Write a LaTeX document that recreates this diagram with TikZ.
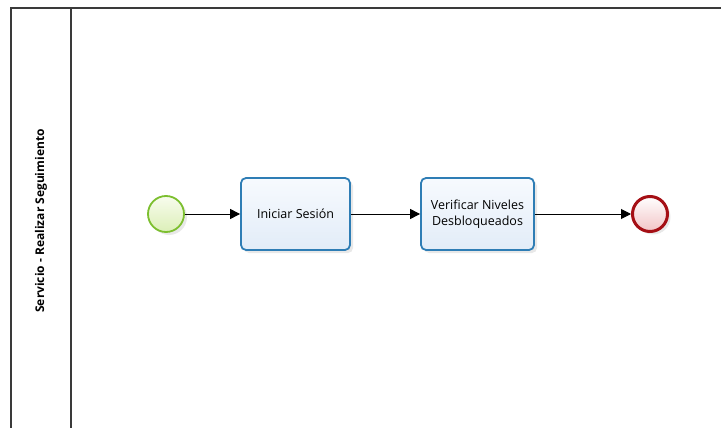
\documentclass[tikz,border=0pt]{standalone}
\usepackage{fontspec}
\setmainfont{Open Sans}
\usetikzlibrary{arrows.meta,shadows}

\definecolor{poolgray}{HTML}{3A3A3A}
\definecolor{taskblue}{HTML}{2E7DB5}
\definecolor{tasktop}{HTML}{F7FAFE}
\definecolor{taskbot}{HTML}{E2ECF8}
\definecolor{startgreen}{HTML}{7CBF2F}
\definecolor{starttop}{HTML}{F8FCEE}
\definecolor{startbot}{HTML}{DCEFB8}
\definecolor{endred}{HTML}{A50F15}
\definecolor{endbot}{HTML}{F2C4C6}

\tikzset{
  taskbox/.style={draw=taskblue, line width=1.8pt, rounded corners=5pt,
    minimum width=109pt, minimum height=72pt, align=center,
    top color=tasktop, bottom color=taskbot, font=\fontsize{12.5}{16}\selectfont,
    drop shadow={opacity=0.18, shadow xshift=3pt, shadow yshift=-3pt}},
  startev/.style={circle, draw=startgreen, line width=1.8pt, minimum size=36pt,
    top color=starttop, bottom color=startbot,
    drop shadow={opacity=0.18, shadow xshift=3pt, shadow yshift=-3pt}},
  endev/.style={circle, draw=endred, line width=3pt, minimum size=35pt,
    top color=white, bottom color=endbot,
    drop shadow={opacity=0.18, shadow xshift=3pt, shadow yshift=-3pt}},
  flow/.style={-{Triangle[length=10pt,width=10pt]}, line width=1pt, black},
}

\begin{document}
\begin{tikzpicture}[x=1pt, y=-1pt]
  \useasboundingbox (0,0) rectangle (721,428);

  % pool and lane
  \draw[poolgray, line width=1.3pt] (11,428) -- (11,8) -- (721,8);
  \draw[poolgray, line width=1.3pt] (71,8) -- (71,428);
  \node[rotate=90, font=\bfseries\fontsize{12}{14}\selectfont] (lane) at (41,221)
    {Servicio - Realizar Seguimiento};

  % events and tasks
  \node[startev] (inicio) at (166,214) {};
  \node[taskbox] (sesion) at (295.5,214) {Iniciar Sesión};
  \node[taskbox, minimum width=113pt] (niveles) at (477.5,214) {Verificar Niveles\\Desbloqueados};
  \node[endev] (fin) at (650,214) {};

  % sequence flows
  \draw[flow] (inicio) -- (sesion);
  \draw[flow] (sesion) -- (niveles);
  \draw[flow] (niveles) -- (fin);
\end{tikzpicture}
\end{document}
